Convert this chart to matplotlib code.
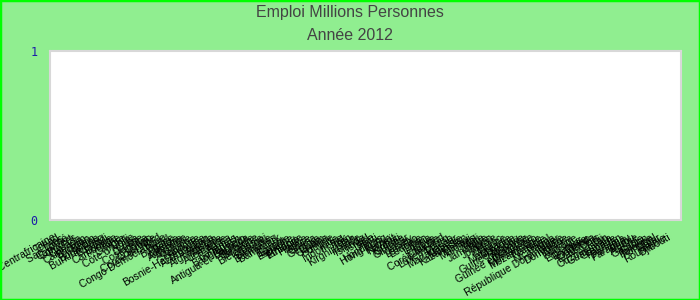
import matplotlib
matplotlib.use("Agg")
import matplotlib.pyplot as plt
import matplotlib.transforms as mtransforms
from matplotlib.patches import Rectangle

# chart text
title1 = "Emploi Millions Personnes"
title2 = "Année 2012"

# categories (x axis), in the order shown
pays = [
    "République Centrafricaine", "Tchad", "Laos", "Sao Tomé", "Cap-Vert", "Comores",
    "Canada", "Cameroun", "Bhoutan", "Bénin", "Botswana",
    "Burkina Faso", "Burundi", "Bolivie", "Cambodge", "Chine", "Chypre",
    "Chili", "Côte d'Ivoire", "Cuba", "Croatie", "Costa Rica", "Congo", "Colombie",
    "Corée du Nord", "Congo Démocratique", "Brésil", "Bulgarie", "Belize", "Arménie",
    "Argentine", "Australie", "Autriche", "Andorre", "Bosnie-Herzégovine", "Azerbaïdjan",
    "Angola", "Afghanistan", "Albanie", "Allemagne", "Aruba", "Bahamas", "Bangladesh",
    "Bahreïn", "Antigua-et-Barbuda", "Barbade", "Belgique", "Biélorussie", "Brunei",
    "Birmanie", "Bermudes", "Danemark", "Égypte", "Estonie", "Espagne", "Éthiopie",
    "Finlande", "France", "Grèce", "Ghana", "Géorgie", "Guam", "Guyana", "Hongrie",
    "Inde", "Indonésie", "Irak", "Iran", "Kirghizistan", "Irlande", "Islande", "Israël",
    "Italie", "Haïti", "Honduras", "Hong Kong", "Kenya", "Koweït", "Kiribati", "Guinée",
    "Gibraltar", "Jersey", "Lesotho", "Lettonie", "Liban", "Libéria", "Libye", "Lituanie",
    "Corée du Sud", "Luxembourg", "Macao", "Madagascar", "Malaisie", "Kazakhstan",
    "Malawi", "Maldives", "Mali", "Malte", "Jamaïque", "Japon", "Jordanie", "Maroc",
    "Maurice", "Mauritanie", "Mexique", "Guinée-Bissau", "Moldavie", "Mongolie",
    "Guinée équatoriale", "Monténégro", "Mozambique", "Namibie", "Népal", "Nicaragua",
    "Niger", "République Dominicaine", "Dominique", "Nigéria", "Norvège", "Équateur",
    "Érythrée", "Oman", "Ouganda", "États-Unis", "Fidji", "Ouzbékistan", "Guatemala",
    "Grenade", "Pakistan", "Panama", "Paraguay", "Pérou", "Algérie", "Gambie", "Gabon",
    "Pologne", "Portugal", "Qatar", "Roumanie", "Djibouti",
]
# employment values (none shown for 2012)
emploi = [0.0] * len(pays)

fig = plt.figure(figsize=(7, 3), dpi=100)
fig.patch.set_facecolor("#90ee90")
fig.patches.append(Rectangle((0, 0), 1, 1, transform=fig.transFigure,
                             fill=False, edgecolor="#00ff00", linewidth=2.5))

ax = fig.add_axes([50 / 700, 80 / 300, 631 / 700, 169 / 300])
ax.set_facecolor("white")
x = list(range(len(pays)))
ax.bar(x, emploi, width=0.6, color="#4f81bd")

ax.set_ylim(0, 1)
ax.set_yticks([0, 1])
ax.set_yticklabels(["0", "1"], color="#1c1ca8", family="DejaVu Sans Mono", fontsize=8.5)
ax.set_xlim(-0.7, len(pays) + 1.9)
ax.set_xticks(x)
ax.set_xticklabels(pays, rotation=30, ha="right", rotation_mode="anchor",
                   fontsize=7.5, family="Liberation Sans", color="black")
ax.tick_params(axis="both", length=0)
ax.tick_params(axis="y", pad=9)
ax.tick_params(axis="x", pad=9)

# nudge x labels a little left
off = mtransforms.ScaledTranslation(-1 / 100, 0, fig.dpi_scale_trans)
for lab in ax.get_xticklabels():
    lab.set_transform(lab.get_transform() + off)

for s in ax.spines.values():
    s.set_color("#d8d8d8")
    s.set_linewidth(1.5)

fig.text(0.5, 1 - 13 / 300, title1, ha="center", va="center", fontsize=11.5,
         family="Liberation Sans", color="#444444")
fig.text(0.5, 1 - 36 / 300, title2, ha="center", va="center", fontsize=11.5,
         family="Liberation Sans", color="#444444")

plt.savefig("out.png", dpi=100, facecolor=fig.get_facecolor())
